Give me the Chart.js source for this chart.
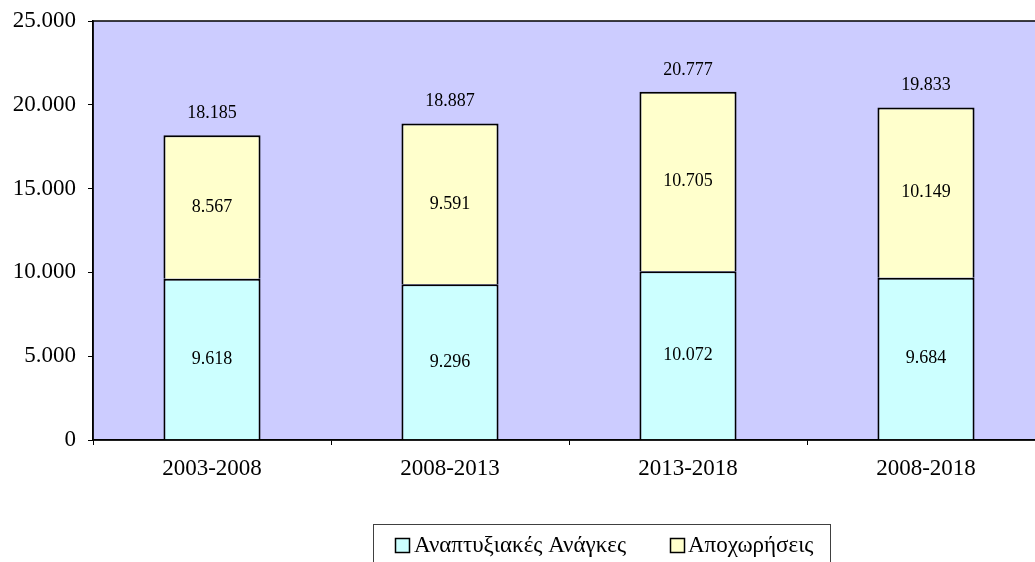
<!DOCTYPE html>
<html>
<head>
<meta charset="utf-8">
<script src="https://cdn.jsdelivr.net/npm/chart.js@4"></script>
<style>
html,body{margin:0;padding:0;background:#fff;overflow:hidden;}
#wrap{position:absolute;left:0;top:0;width:1050px;height:562px;}
</style>
</head>
<body>
<div id="wrap"><canvas id="c" width="1050" height="562"></canvas></div>
<script>
const categories = ['2003-2008', '2008-2013', '2013-2018', '2008-2018'];
const devNeeds = [9618, 9296, 10072, 9684];
const retirements = [8567, 9591, 10705, 10149];
const totals = [18185, 18887, 20777, 19833];
const seriesNames = ['Αναπτυξιακές Ανάγκες', 'Αποχωρήσεις'];
const yMin = 0, yMax = 25000, yStep = 5000;

const FONT = "'Liberation Serif', 'Times New Roman', serif";
function fmt(v){ return String(v).replace(/\B(?=(\d{3})+(?!\d))/g, '.'); }

const decor = {
  id: 'decor',
  beforeDraw(chart){
    const {ctx, chartArea:a} = chart;
    ctx.save();
    ctx.fillStyle = '#CCCCFF';
    ctx.fillRect(a.left, a.top, a.right - a.left, a.bottom - a.top);
    ctx.restore();
  },
  afterDatasetsDraw(chart){
    const {ctx, chartArea:a} = chart;
    ctx.save();
    ctx.strokeStyle = '#000';
    ctx.lineWidth = 1.5;
    ctx.strokeRect(a.left, a.top, a.right - a.left, a.bottom - a.top);
    ctx.fillStyle = '#000';
    ctx.font = '18px ' + FONT;
    ctx.textAlign = 'center';
    ctx.textBaseline = 'middle';
    chart.data.datasets.forEach((ds, di) => {
      const meta = chart.getDatasetMeta(di);
      meta.data.forEach((el, i) => {
        ctx.fillText(fmt(ds.data[i]), el.x, (el.y + el.base) / 2);
      });
    });
    const topMeta = chart.getDatasetMeta(chart.data.datasets.length - 1);
    topMeta.data.forEach((el, i) => {
      ctx.fillText(fmt(totals[i]), el.x, el.y - 22);
    });
    // legend
    const lx = 373.5, ly = 524.5, lw = 457, lh = 60;
    ctx.strokeStyle = '#404040';
    ctx.lineWidth = 1;
    ctx.strokeRect(lx, ly, lw, lh);
    ctx.font = '23px ' + FONT;
    ctx.textAlign = 'left';
    const items = [{x:395.5, tx:414}, {x:670.5, tx:688}];
    chart.data.datasets.forEach((ds, di) => {
      const it = items[di];
      ctx.fillStyle = ds.backgroundColor;
      ctx.fillRect(it.x, 538.5, 14, 14);
      ctx.strokeStyle = '#000';
      ctx.lineWidth = 1.5;
      ctx.strokeRect(it.x, 538.5, 14, 14);
      ctx.fillStyle = '#000';
      ctx.fillText(ds.label, it.tx, 546);
    });
    ctx.restore();
  }
};

new Chart(document.getElementById('c'), {
  type: 'bar',
  data: {
    labels: categories,
    datasets: [
      { label: seriesNames[0], data: devNeeds, backgroundColor: '#CCFFFF', borderColor: '#000', borderWidth: 2, borderSkipped: 'start', inflateAmount: 0 },
      { label: seriesNames[1], data: retirements, backgroundColor: '#FFFFCC', borderColor: '#000', borderWidth: 2, borderSkipped: 'start', inflateAmount: 0 }
    ]
  },
  options: {
    responsive: false,
    animation: false,
    devicePixelRatio: 1,
    layout: { padding: { left: 0, top: 21, right: 5, bottom: 0 } },
    datasets: { bar: { barPercentage: 0.408, categoryPercentage: 1 } },
    plugins: { legend: { display: false }, tooltip: { enabled: false } },
    scales: {
      x: {
        stacked: true,
        offset: true,
        grid: { offset: true, drawOnChartArea: false, tickLength: 5, color: '#000', lineWidth: 1 },
        border: { color: '#000', width: 1.5 },
        ticks: { color: '#000', font: { family: FONT, size: 23 }, padding: 10, maxRotation: 0 },
        afterFit(s){ s.height = 122; s.paddingLeft = 0; s.paddingRight = 0; }
      },
      y: {
        stacked: true,
        min: yMin, max: yMax,
        grid: { drawOnChartArea: false, tickLength: 5, color: '#000', lineWidth: 1 },
        border: { color: '#000', width: 1.5 },
        ticks: { stepSize: yStep, color: '#000', font: { family: FONT, size: 23 }, padding: 12, callback: v => fmt(v) },
        afterFit(s){ s.width = 93; s.paddingTop = 0; s.paddingBottom = 0; }
      }
    }
  },
  plugins: [decor]
});
</script>
</body>
</html>
